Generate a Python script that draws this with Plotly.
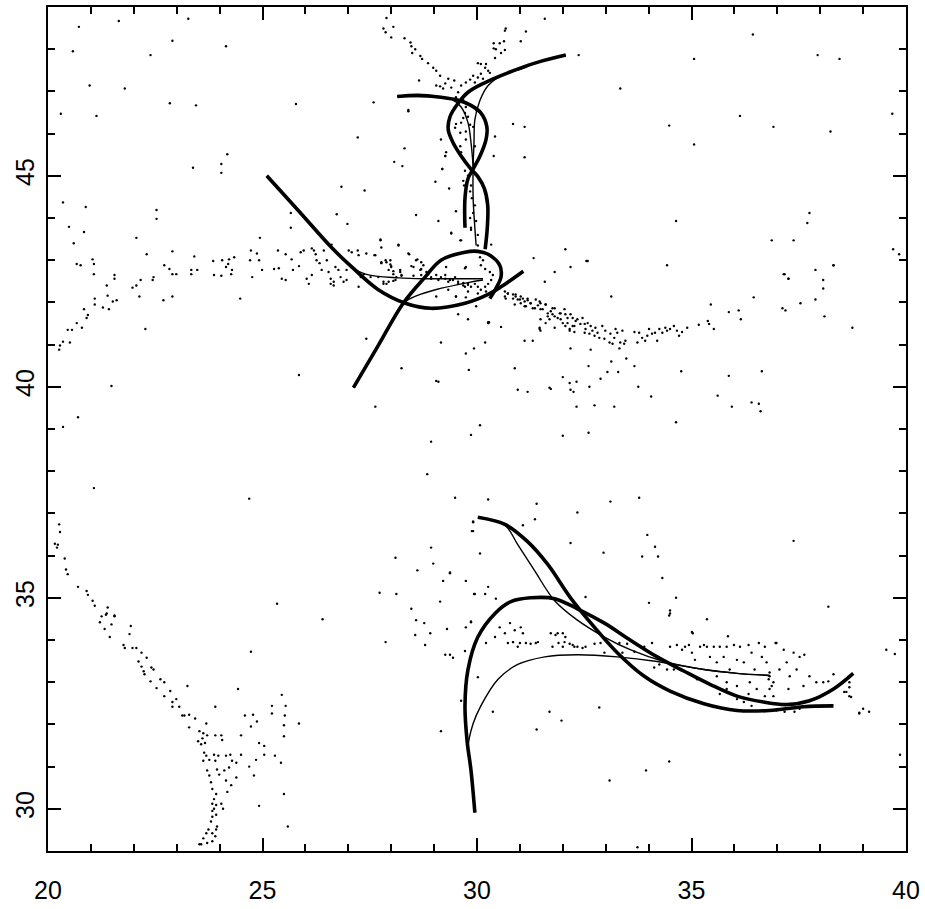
import plotly.graph_objects as go

# ---------------- tracks (lon, lat) ----------------
track_a_thick = [(25.10, 45.00), (25.85, 44.16), (26.61, 43.30), (27.08, 42.84), (27.70, 42.30),
                 (28.33, 41.98), (28.93, 41.86), (29.72, 41.98), (30.26, 42.19), (30.56, 42.37),
                 (31.08, 42.74)]
track_a_thin = [(25.10, 45.00), (25.85, 44.16), (26.61, 43.30), (27.08, 42.84), (27.40, 42.67),
                (28.17, 42.58), (28.93, 42.56), (29.60, 42.56), (30.14, 42.56)]
track_b_thick = [(27.12, 39.98), (27.70, 40.98), (28.28, 41.98), (28.79, 42.60), (29.16, 43.00),
                 (29.72, 43.19), (30.02, 43.21), (30.26, 43.14), (30.53, 42.88), (30.56, 42.60),
                 (30.44, 42.33), (30.30, 42.09)]
track_b_thin = [(27.12, 39.98), (27.70, 40.98), (28.28, 41.98), (28.60, 42.16), (29.03, 42.30),
                (29.79, 42.47), (30.14, 42.53)]
track_c_thick = [(30.19, 43.26), (30.24, 43.77), (30.25, 44.30), (30.17, 44.70), (30.02, 44.98),
                 (29.86, 45.16), (29.63, 45.47), (29.44, 45.79), (29.33, 46.09), (29.37, 46.40),
                 (29.56, 46.72), (29.79, 46.98), (30.19, 47.21), (30.72, 47.44), (31.35, 47.67),
                 (32.07, 47.86)]
track_c_thin = [(32.07, 47.86), (31.35, 47.67), (31.11, 47.56), (30.56, 47.37), (30.26, 47.14),
                (30.07, 46.79), (29.95, 46.33), (29.93, 45.79), (29.91, 45.23), (29.91, 44.47),
                (29.95, 43.77), (29.98, 43.35)]
track_d_thick = [(28.14, 46.88), (28.63, 46.91), (29.16, 46.86), (29.56, 46.79), (29.86, 46.67),
                 (30.09, 46.49), (30.23, 46.16), (30.21, 45.86), (30.07, 45.47), (29.91, 45.16),
                 (29.79, 44.93), (29.72, 44.47), (29.72, 43.77)]
track_d_thin = [(28.14, 46.88), (29.16, 46.86), (29.40, 46.82), (29.63, 46.63), (29.79, 46.26),
                (29.86, 45.79), (29.91, 45.23)]

track_e_thick = [(30.02, 36.91), (30.65, 36.74), (31.18, 36.33), (31.65, 35.79), (32.18, 35.00),
                 (32.74, 34.30), (33.27, 33.70), (33.90, 33.14), (34.50, 32.79), (35.29, 32.49),
                 (36.06, 32.33), (36.82, 32.33), (37.61, 32.42), (38.31, 32.44)]
track_e_thin = [(30.02, 36.91), (30.65, 36.72), (30.95, 36.26), (31.35, 35.63), (31.81, 34.93),
                (32.34, 34.47), (32.97, 34.07), (33.57, 33.77), (34.36, 33.49), (35.29, 33.30),
                (36.06, 33.21), (36.82, 33.16)]
track_f_thick = [(29.95, 29.91), (29.86, 30.91), (29.77, 31.60), (29.72, 32.44), (29.79, 33.30),
                 (30.02, 34.07), (30.42, 34.63), (30.79, 34.91), (31.25, 35.00), (31.81, 34.98),
                 (32.34, 34.74), (32.97, 34.40), (33.57, 34.00), (34.20, 33.60), (34.83, 33.26),
                 (35.43, 32.95), (36.06, 32.67), (36.68, 32.53), (37.22, 32.47), (37.75, 32.56),
                 (38.31, 32.84), (38.77, 33.21)]
track_f_thin = [(29.95, 29.91), (29.86, 30.91), (29.79, 31.44), (29.91, 32.02), (30.09, 32.44),
                (30.49, 33.07), (30.95, 33.42), (31.58, 33.60), (32.34, 33.65), (33.27, 33.60),
                (34.20, 33.49), (35.29, 33.30), (36.06, 33.21), (36.82, 33.16)]

thick_tracks = [track_a_thick, track_b_thick, track_c_thick, track_d_thick, track_e_thick, track_f_thick]
thin_tracks = [track_a_thin, track_b_thin, track_c_thin, track_d_thin, track_e_thin, track_f_thin]

# ---------------- point observations (lon, lat) ----------------
dots_northwest = [
    (20.72, 48.53), (21.65, 48.67), (23.27, 48.72), (20.58, 47.95), (22.90, 48.20), (24.15, 48.07),
    (22.39, 47.86), (20.97, 47.14), (21.79, 47.07), (20.30, 46.47), (21.13, 46.42), (22.84, 46.72),
    (23.45, 46.67), (25.78, 46.70), (23.38, 45.19), (24.04, 45.28), (24.04, 45.07), (24.18, 45.51),
    (20.35, 44.37), (20.88, 44.26), (22.53, 44.19), (22.53, 43.98), (20.49, 43.79), (20.84, 43.67),
    (25.66, 44.12), (25.66, 43.77), (20.60, 43.40), (22.06, 43.53), (22.30, 43.14), (24.94, 43.53),
    (27.59, 46.74), (28.40, 46.53), (27.22, 45.91), (28.31, 45.65), (28.07, 45.33), (28.26, 45.23),
    (26.84, 44.74), (27.38, 44.65), (28.58, 44.07), (26.73, 44.09), (26.98, 43.86), (27.63, 39.53),
    (20.70, 39.28), (20.35, 39.05), (21.48, 40.02), (22.27, 41.37), (25.85, 40.28), (28.24, 40.44),
    (29.05, 40.14), (27.42, 41.14), (29.10, 40.12),
]
dots_west_band = [
    (20.67, 42.91), (20.76, 42.88), (21.04, 43.02), (21.07, 42.91), (21.07, 42.67), (21.55, 42.65),
    (21.55, 42.56), (21.37, 42.40), (21.09, 42.09), (21.09, 41.95), (21.39, 42.16), (21.28, 41.88),
    (21.42, 41.84), (21.51, 42.02), (21.60, 42.05), (20.84, 41.84), (20.93, 41.70), (20.90, 41.63),
    (20.67, 41.51), (20.79, 41.40), (20.46, 41.35), (20.56, 41.35), (20.35, 41.07), (20.51, 41.05),
    (20.28, 40.98), (20.26, 40.88), (21.97, 42.35), (22.06, 42.40), (22.16, 42.53), (22.13, 42.14),
    (22.46, 42.60), (22.44, 42.53), (22.71, 42.88), (22.69, 42.05), (22.83, 42.79), (22.90, 42.67),
    (22.99, 42.67), (22.90, 43.21), (22.90, 42.14), (23.34, 42.77), (23.34, 42.67), (23.48, 42.77),
    (23.41, 43.09), (23.85, 42.98), (23.87, 42.65), (24.04, 42.63), (24.06, 43.00), (24.15, 42.84),
    (24.20, 42.91), (24.22, 43.02), (24.27, 42.67), (24.34, 43.07), (24.29, 42.77), (24.48, 42.09),
    (24.73, 43.23), (24.71, 43.00), (24.76, 42.60), (24.92, 43.00), (24.99, 42.77), (24.87, 43.16),
    (25.27, 42.79), (25.36, 43.23), (25.38, 42.81), (25.45, 42.56), (25.54, 42.53), (25.54, 43.14),
    (25.68, 43.02), (25.71, 42.77), (25.85, 42.86), (25.89, 43.19), (25.96, 43.23), (26.03, 42.56),
    (26.08, 42.44), (26.15, 43.28), (26.20, 43.23), (26.24, 43.14), (26.26, 43.00), (26.15, 42.65),
    (26.33, 42.93), (26.43, 43.23), (26.38, 42.77), (26.50, 43.00), (26.54, 42.72), (26.59, 42.56),
    (26.59, 42.44), (26.66, 42.49), (26.66, 42.40), (26.61, 43.37), (26.70, 42.84), (26.77, 42.77),
    (26.82, 42.60), (26.89, 42.49), (26.96, 42.53), (27.01, 43.23), (27.08, 43.19), (26.96, 42.77),
    (27.24, 43.12), (27.22, 43.23), (27.24, 42.37), (27.29, 42.60), (27.36, 42.67), (27.42, 43.16),
    (27.52, 42.60), (27.63, 43.12), (27.75, 43.47), (27.77, 42.95), (27.82, 42.49), (27.87, 43.00),
    (27.89, 42.44), (27.94, 42.77), (27.98, 43.00), (28.00, 42.86), (28.05, 42.67), (28.10, 42.53),
    (28.17, 43.37), (28.21, 42.77), (28.24, 42.65), (28.40, 43.16), (28.47, 42.86), (28.52, 42.63),
    (28.58, 43.00), (28.68, 42.77), (28.70, 42.65), (28.70, 42.95), (28.86, 42.67), (28.93, 42.60),
    (29.10, 42.53), (29.26, 42.56), (29.33, 42.49), (29.44, 42.53), (29.56, 42.44), (29.68, 42.40),
    (29.79, 42.42), (29.86, 42.37), (29.72, 42.81), (29.05, 42.14), (29.51, 42.14), (29.74, 42.12),
    (29.56, 41.72), (29.79, 41.60), (29.98, 41.91), (29.16, 41.05), (29.74, 40.79), (29.93, 40.91),
    (29.81, 40.40), (29.40, 43.63), (29.61, 43.47), (29.86, 43.72),
    (27.75, 43.49), (27.77, 43.30), (28.17, 43.35), (27.61, 43.12), (28.42, 43.14), (28.61, 43.02),
    (28.70, 42.79), (27.77, 42.93), (27.89, 42.95), (27.98, 42.90), (28.00, 42.84), (28.05, 42.74),
    (28.21, 42.72), (28.24, 42.63), (28.12, 42.60), (27.70, 42.60), (27.82, 42.44), (27.94, 42.49),
    (28.05, 42.51), (28.52, 42.84), (28.75, 42.88), (28.82, 42.72), (28.93, 42.56), (29.05, 42.65),
    (29.16, 42.60), (29.26, 42.65), (29.37, 42.53), (29.49, 42.60), (29.56, 42.49), (29.68, 42.46),
    (29.79, 42.44), (29.95, 42.44), (30.02, 42.37), (30.09, 42.30), (30.19, 42.37), (30.26, 42.44),
    (30.33, 42.53), (30.37, 42.65), (30.30, 42.72), (30.19, 42.79), (30.09, 42.88), (30.14, 43.00),
    (30.07, 43.07), (29.28, 42.84), (29.74, 42.84), (29.51, 42.14), (29.33, 42.30), (29.79, 42.26),
    (29.72, 42.37), (30.02, 42.21), (30.21, 42.26), (30.26, 41.53), (30.56, 41.42), (30.19, 41.05),
    (30.26, 41.51), (29.63, 43.47), (29.86, 43.77), (29.84, 44.00), (29.91, 44.12), (29.95, 44.30),
    (29.98, 43.93), (30.02, 43.60), (30.02, 43.35), (29.88, 44.47), (29.84, 44.63), (29.86, 44.77),
    (30.33, 43.37), (29.10, 43.93), (29.40, 43.65), (29.51, 44.16), (29.16, 45.86), (29.26, 45.47),
    (29.19, 45.16), (29.03, 44.86), (29.35, 44.70),
]
dots_north_center = [
    (27.89, 48.74), (27.82, 48.49), (28.05, 48.53), (27.87, 48.40), (28.00, 48.28), (28.31, 48.26),
    (28.45, 48.16), (28.47, 48.07), (28.56, 48.00), (28.49, 47.91), (28.68, 47.84), (28.72, 47.77),
    (28.86, 47.67), (28.98, 47.56), (29.05, 47.49), (29.14, 47.37), (29.33, 47.30), (29.26, 47.19),
    (29.14, 47.12), (29.40, 47.09), (29.47, 47.26), (29.56, 46.98), (29.63, 47.14), (29.74, 47.21),
    (29.84, 47.28), (29.91, 47.37), (29.95, 47.21), (30.02, 47.33), (30.09, 47.42), (30.14, 47.30),
    (30.02, 47.67), (30.09, 47.65), (30.19, 47.56), (30.26, 47.49), (30.21, 47.65), (30.30, 47.44),
    (30.42, 47.79), (30.44, 48.00), (30.39, 48.14), (30.39, 48.02), (30.53, 48.14), (30.56, 47.91),
    (30.63, 48.19), (30.65, 47.98), (30.67, 48.49), (30.65, 48.44), (31.02, 48.19), (31.14, 48.42),
    (31.58, 48.72), (32.37, 47.86), (28.65, 47.26), (29.05, 47.14), (29.21, 47.07), (29.51, 46.86),
    (29.68, 46.79), (29.74, 46.63), (29.72, 46.49), (29.79, 46.40), (29.68, 46.37), (29.51, 46.23),
    (29.63, 46.26), (29.74, 46.05), (29.84, 46.21), (29.61, 46.02), (29.49, 46.14), (29.74, 45.86),
    (29.61, 45.70), (29.63, 45.56), (29.72, 45.33), (29.72, 45.12), (29.79, 45.00), (29.68, 44.88),
    (29.70, 44.77), (29.95, 45.70), (29.91, 46.16), (29.98, 46.56), (29.28, 45.56), (29.26, 45.47),
    (29.19, 45.16), (28.40, 46.56), (30.84, 46.23), (31.11, 46.16), (30.42, 45.93), (30.39, 45.47),
    (31.11, 45.44),
]
dots_east_band = [
    (32.06, 43.26), (31.32, 43.05), (31.81, 42.72), (31.58, 42.49), (32.18, 42.84), (32.55, 42.98),
    (32.58, 42.98), (33.13, 42.14),
    (30.65, 42.26), (30.72, 42.21), (30.84, 42.19), (30.90, 42.14), (30.67, 42.09), (31.00, 42.07),
    (31.07, 42.09), (31.18, 42.05), (31.02, 41.98), (30.88, 41.95), (31.11, 41.91), (31.25, 41.98),
    (31.35, 41.86), (31.46, 42.02), (31.48, 41.84), (31.60, 41.95), (31.65, 41.74), (31.76, 41.86),
    (31.81, 41.67), (31.93, 41.74), (31.95, 41.60), (32.06, 41.72), (32.11, 41.51), (32.23, 41.63),
    (32.27, 41.44), (32.34, 41.60), (32.41, 41.49), (32.51, 41.28), (32.16, 41.33), (31.46, 41.37),
    (31.48, 41.60),
    (30.65, 42.14), (30.72, 42.21), (30.84, 42.09), (30.90, 42.19), (30.95, 42.07), (31.02, 42.14),
    (31.11, 42.02), (31.18, 42.09), (31.14, 41.91), (31.25, 41.98), (31.30, 41.86), (31.37, 42.07),
    (31.42, 41.93), (31.48, 41.98), (31.53, 41.84), (31.60, 41.95), (31.65, 41.67), (31.72, 41.79),
    (31.76, 41.72), (31.81, 41.86), (31.46, 41.40), (31.48, 41.33), (31.60, 41.51), (31.69, 41.60),
    (31.81, 41.40), (31.88, 41.63), (31.95, 41.74), (32.00, 41.51), (32.04, 41.84), (32.06, 41.44),
    (32.11, 41.63), (32.16, 41.37), (32.18, 41.72), (32.23, 41.44), (32.27, 41.30), (32.30, 41.56),
    (32.46, 41.63), (32.51, 41.49), (32.53, 41.37), (32.58, 41.51), (32.62, 41.26), (32.65, 41.44),
    (32.69, 41.33), (32.74, 41.21), (32.76, 41.40), (32.81, 41.28), (32.85, 41.16), (32.92, 41.44),
    (32.97, 41.14), (32.99, 41.33), (33.09, 41.05), (33.11, 41.26), (33.16, 41.02), (33.20, 41.16),
    (33.23, 41.37), (33.27, 41.28), (33.34, 41.05), (33.39, 41.33), (33.43, 41.02), (33.46, 41.09),
    (33.32, 40.91), (33.67, 41.30), (33.74, 41.05), (33.78, 41.28), (33.85, 41.16), (33.92, 41.09),
    (33.97, 41.21), (34.01, 41.37), (34.08, 41.26), (34.15, 41.28), (34.20, 41.09), (34.25, 41.37),
    (34.32, 41.28), (34.39, 41.40), (34.43, 41.33), (34.50, 41.37), (34.59, 41.44), (34.66, 41.33),
    (34.71, 41.21), (34.78, 41.30), (34.90, 41.40), (35.17, 41.47), (35.38, 41.56), (35.41, 41.49),
    (35.52, 41.37), (35.45, 41.95), (35.87, 41.77), (36.10, 41.81), (36.15, 41.60), (36.45, 42.12),
    (37.15, 42.67), (37.26, 42.56), (37.12, 41.86), (37.19, 41.81), (37.54, 41.98), (37.89, 42.77),
    (37.89, 42.07), (38.07, 42.53), (38.07, 42.33), (38.10, 41.67), (38.31, 42.88), (38.75, 41.40),
    (39.70, 43.26), (39.84, 43.14),
]
dots_central = [
    (30.28, 41.53), (30.26, 41.51), (30.88, 40.44), (31.11, 41.09), (31.30, 41.09), (30.95, 39.93),
    (31.18, 39.88), (31.69, 39.98), (32.00, 40.23), (32.16, 40.09), (32.18, 39.93), (32.18, 40.91),
    (32.65, 40.88), (33.13, 40.60), (33.48, 40.67), (33.67, 40.49), (32.60, 40.49), (33.04, 40.35),
    (33.29, 40.35), (32.88, 40.19), (34.76, 40.37), (35.87, 40.26), (36.64, 40.37), (32.32, 40.12),
    (32.25, 39.88), (31.72, 39.95), (32.62, 40.00), (33.76, 40.00), (34.06, 39.77), (35.61, 39.79),
    (36.40, 39.63), (36.57, 39.60), (36.61, 39.42), (32.32, 39.53), (32.74, 39.56), (33.20, 39.53),
    (34.64, 39.16), (30.07, 39.09), (29.86, 38.86), (32.00, 38.84), (32.60, 38.91), (35.94, 39.53),
    (28.93, 38.70), (28.84, 37.93), (29.49, 37.37), (29.91, 36.79), (29.88, 36.58), (28.93, 36.19),
    (28.98, 35.81), (28.10, 35.95), (28.61, 35.65), (29.37, 35.58), (29.21, 35.40), (29.74, 35.40),
    (27.73, 35.12), (28.12, 35.09), (29.14, 34.91), (29.93, 35.09), (28.47, 34.74), (28.58, 34.47),
    (28.77, 34.40), (29.30, 34.26), (29.74, 34.30), (29.86, 34.44), (28.91, 34.16), (28.56, 34.12),
    (28.79, 33.88), (27.87, 33.95), (25.34, 34.86), (26.40, 34.49), (21.07, 37.60), (24.69, 37.35),
]
dots_northeast = [
    (36.43, 48.35), (37.94, 47.86), (38.45, 47.77), (35.06, 47.77), (33.34, 47.07), (34.48, 46.19),
    (36.13, 46.42), (36.91, 46.16), (35.06, 45.74), (38.24, 46.05), (39.68, 46.47), (34.64, 43.93),
    (37.75, 44.12), (37.70, 43.88), (36.87, 43.47), (37.38, 43.47), (38.31, 42.88), (34.43, 42.88),
    (37.17, 42.67), (37.26, 42.56),
]
dots_southwest = [
    (20.26, 36.74), (20.28, 36.56), (20.16, 36.28), (20.23, 36.26), (20.21, 36.19), (20.39, 35.93),
    (20.42, 35.67), (20.46, 35.56), (20.70, 35.26), (20.90, 35.16), (20.93, 35.07), (21.04, 34.93),
    (21.09, 34.81), (21.25, 34.56), (21.35, 34.60), (21.39, 34.77), (21.21, 34.42), (21.32, 34.26),
    (21.48, 34.37), (21.44, 34.07), (21.55, 34.56), (21.93, 34.33), (21.90, 34.14), (21.76, 33.88),
    (21.97, 33.81), (22.06, 33.81), (21.37, 34.63), (21.55, 34.58), (21.79, 33.81),
    (22.18, 33.70), (22.30, 33.58), (22.11, 33.49), (22.18, 33.37), (22.23, 33.26), (22.25, 33.19),
    (22.41, 33.35), (22.46, 33.30), (22.39, 33.02), (22.62, 33.07), (22.71, 33.00), (22.53, 32.86),
    (22.85, 32.79), (22.71, 32.67), (22.90, 32.53), (22.99, 32.60), (22.90, 32.42), (23.06, 32.42),
    (23.13, 32.21), (23.18, 32.21), (23.29, 32.23), (23.25, 32.91), (23.43, 32.14), (23.29, 31.93),
    (23.53, 31.84), (23.69, 32.02), (23.62, 31.79), (23.60, 31.67), (23.71, 31.74), (23.57, 31.53),
    (23.66, 31.56), (23.50, 31.60), (23.64, 31.33), (23.69, 31.26), (23.62, 31.14), (23.76, 31.16),
    (23.87, 31.28), (23.90, 31.14), (23.97, 31.26), (24.04, 31.74), (24.06, 31.63), (23.90, 31.74),
    (23.71, 30.91), (23.76, 30.79), (23.94, 30.93), (23.99, 30.81), (24.15, 31.26), (24.22, 30.98),
    (24.29, 31.14), (24.25, 31.28), (24.39, 31.09), (24.50, 31.28), (24.15, 30.67), (24.11, 30.91),
    (24.39, 30.74), (24.27, 30.56), (24.18, 30.40), (23.80, 30.63), (23.83, 30.47), (23.92, 30.35),
    (23.87, 30.23), (23.83, 30.12), (23.87, 30.00), (23.92, 30.09), (23.83, 29.95), (23.83, 29.81),
    (23.80, 29.70), (23.92, 29.86), (23.94, 29.58), (23.74, 29.51), (23.69, 29.42), (23.83, 29.42),
    (23.90, 29.35), (23.62, 29.30), (23.57, 29.16), (23.71, 29.19), (23.53, 29.16), (23.83, 29.23),
    (23.92, 29.51), (24.08, 30.00), (24.04, 30.12), (24.50, 31.74), (24.59, 32.21), (24.78, 32.23),
    (24.73, 31.95), (24.87, 32.07), (24.92, 31.56), (25.04, 31.49), (25.04, 31.28), (24.69, 31.00),
    (24.85, 31.16), (24.80, 30.79), (25.22, 32.44), (25.22, 32.26), (25.45, 32.70), (25.52, 32.21),
    (25.54, 32.44), (25.50, 31.98), (25.50, 31.72), (25.29, 31.26), (25.43, 31.09), (25.50, 30.35),
    (24.92, 30.07), (25.59, 29.58), (24.73, 33.72), (24.43, 32.84), (23.90, 32.42), (25.85, 32.02),
]
dots_southeast = [
    (30.26, 37.33), (31.39, 37.23), (33.11, 37.28), (33.78, 37.37), (32.34, 37.02), (29.91, 36.81),
    (31.07, 36.72), (31.35, 36.86), (29.91, 36.58), (32.18, 36.30), (33.97, 36.49), (34.15, 36.21),
    (34.22, 35.98), (32.95, 36.07), (33.85, 35.98), (37.38, 36.35), (30.07, 36.05), (29.37, 35.60),
    (30.26, 35.26), (29.95, 35.09), (30.19, 35.09), (30.44, 34.98), (32.53, 35.02), (34.32, 35.47),
    (34.64, 35.00), (34.01, 34.88), (38.19, 34.79), (35.36, 34.49), (34.50, 34.70), (34.48, 34.58),
    (29.86, 34.42), (29.37, 33.65), (29.26, 33.65), (29.44, 33.58), (30.02, 33.12), (30.37, 32.30),
    (31.69, 32.30), (31.97, 32.09), (31.39, 31.88), (32.85, 32.40), (29.16, 31.84), (29.63, 32.56),
    (34.48, 31.12), (33.94, 30.91), (33.09, 30.67), (35.03, 34.16), (35.85, 34.09), (39.54, 33.77),
    (39.74, 33.67), (39.86, 31.28), (33.74, 29.09), (34.50, 34.63), (35.01, 34.19), (30.77, 34.40),
    (29.72, 33.74),
    (30.21, 33.93), (30.42, 34.07), (30.53, 34.30), (30.65, 34.16), (30.72, 33.93), (30.84, 33.95),
    (30.88, 34.23), (30.95, 33.84), (31.02, 34.30), (31.07, 34.16), (31.14, 33.93), (31.25, 33.91),
    (31.37, 33.93), (31.76, 33.84), (31.72, 34.16), (31.83, 34.12), (32.00, 34.16), (32.04, 33.95),
    (32.16, 33.91), (32.23, 33.88), (32.34, 33.84), (32.46, 33.81), (32.00, 33.84), (31.90, 33.93),
    (32.06, 34.07), (32.53, 33.84), (32.74, 33.91), (32.88, 33.93), (32.97, 33.70), (33.32, 33.93),
    (33.39, 33.70), (33.50, 33.91), (33.67, 33.72), (33.74, 33.88), (33.90, 33.84), (34.08, 33.93),
    (34.13, 33.35), (34.25, 33.42), (34.39, 33.47), (34.43, 33.30), (34.50, 33.84), (34.59, 33.30),
    (34.66, 33.88), (34.78, 33.77), (34.85, 33.84), (34.94, 33.88), (35.01, 33.70), (35.08, 33.53),
    (35.13, 33.07), (35.20, 33.84), (35.29, 33.88), (35.36, 33.84), (35.43, 33.60), (35.52, 33.84),
    (35.59, 33.47), (35.66, 33.84), (35.75, 33.60), (35.82, 33.84), (35.89, 33.30), (35.99, 33.88),
    (36.06, 33.53), (36.13, 33.84), (36.22, 33.47), (36.33, 33.88), (36.40, 33.70), (36.47, 33.30),
    (36.57, 33.93), (36.64, 33.60), (36.71, 33.84), (36.75, 33.47), (36.82, 33.14), (36.87, 32.91),
    (36.82, 32.84), (36.91, 33.00), (36.82, 33.23), (36.80, 33.07), (36.98, 33.93), (37.05, 33.30),
    (37.15, 33.77), (37.22, 33.47), (37.26, 32.84), (37.29, 33.14), (37.38, 33.70), (37.45, 33.30),
    (37.52, 33.60), (37.61, 32.91), (37.63, 33.65), (37.75, 33.14), (37.91, 33.00), (38.07, 33.00),
    (38.19, 33.02), (38.31, 33.19), (38.56, 32.77), (38.68, 32.88), (38.72, 32.65), (38.68, 33.00),
    (38.61, 32.77), (38.68, 32.67), (38.91, 32.28), (39.00, 32.37), (39.14, 32.30), (38.91, 32.26),
    (36.22, 32.53), (36.40, 32.44), (36.98, 32.33), (37.17, 32.30), (37.29, 32.37), (37.40, 32.30),
    (37.52, 32.37), (36.52, 32.84), (36.33, 32.72), (36.06, 32.60), (35.82, 32.84), (35.59, 33.14),
    (35.82, 33.00), (35.66, 32.72), (36.06, 32.91), (36.36, 33.00), (36.71, 32.67), (36.91, 32.67),
    (36.96, 33.93), (30.84, 33.95), (31.00, 33.93), (31.42, 33.95), (31.88, 34.16), (32.27, 33.84),
]

dot_groups = [dots_northwest, dots_west_band, dots_north_center, dots_east_band,
              dots_central, dots_northeast, dots_southwest, dots_southeast]

x_ticks = [20, 25, 30, 35, 40]
y_ticks = [30, 35, 40, 45]

fig = go.Figure()

all_dots = [p for g in dot_groups for p in g]
fig.add_trace(go.Scatter(
    x=[p[0] for p in all_dots], y=[p[1] for p in all_dots], mode="markers",
    marker=dict(size=2.4, color="black", line=dict(width=0)), hoverinfo="skip"))

for tr in thin_tracks:
    fig.add_trace(go.Scatter(x=[p[0] for p in tr], y=[p[1] for p in tr], mode="lines",
                             line=dict(color="black", width=1.4, shape="spline", smoothing=1.0),
                             hoverinfo="skip"))
for tr in thick_tracks:
    fig.add_trace(go.Scatter(x=[p[0] for p in tr], y=[p[1] for p in tr], mode="lines",
                             line=dict(color="black", width=3.6, shape="spline", smoothing=1.0),
                             hoverinfo="skip"))

axis_common = dict(
    showgrid=False, zeroline=False, showline=True, linecolor="black", linewidth=2,
    mirror="ticks", ticks="inside", ticklen=13, tickwidth=2, tickcolor="black",
    tickfont=dict(family="Liberation Sans", size=25, color="black"),
    minor=dict(dtick=1, ticks="inside", ticklen=7, tickwidth=1.5, tickcolor="black"),
)
fig.update_xaxes(range=[20, 40], tickvals=x_ticks, ticktext=[str(v) for v in x_ticks],
                 ticklabelstandoff=16, **axis_common)
fig.update_yaxes(range=[29, 49], tickvals=y_ticks, ticktext=[str(v) for v in y_ticks],
                 tickangle=-90, ticklabelstandoff=2, **axis_common)

fig.update_layout(
    width=925, height=909, showlegend=False,
    margin=dict(l=48, r=15, t=5, b=44),
    paper_bgcolor="white", plot_bgcolor="white",
)
fig.write_html("out.html")
